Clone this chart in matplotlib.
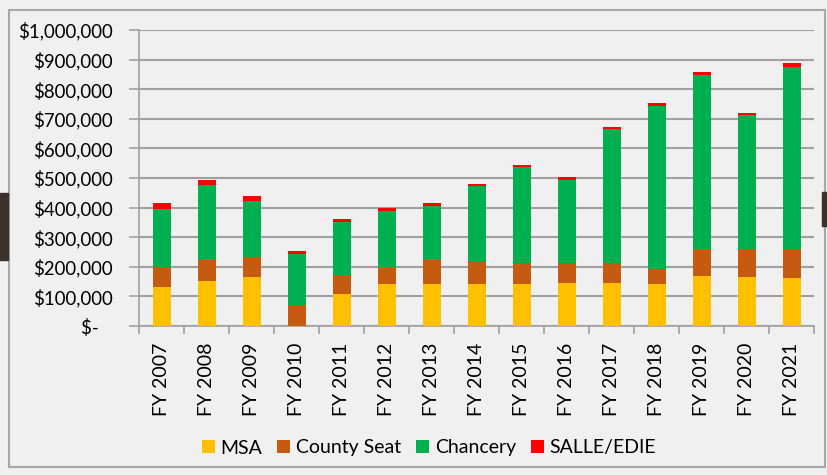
import matplotlib.pyplot as plt
from matplotlib.patches import Rectangle
import numpy as np

# values (dollars)
years = ['FY 2007', 'FY 2008', 'FY 2009', 'FY 2010', 'FY 2011', 'FY 2012', 'FY 2013',
         'FY 2014', 'FY 2015', 'FY 2016', 'FY 2017', 'FY 2018', 'FY 2019', 'FY 2020', 'FY 2021']
msa = [131000, 153000, 166000, 0, 109000, 143000, 143000, 143000, 143000, 144000,
       144000, 141000, 169000, 166000, 162000]
county_seat = [69000, 70000, 68000, 71000, 62000, 57000, 80000, 73000, 69000, 69000,
               69000, 53000, 91000, 94000, 98000]
chancery = [195000, 252000, 187000, 171000, 181000, 190000, 182000, 258000, 324000,
            281000, 451000, 549000, 588000, 452000, 615000]
salle_edie = [19000, 18000, 19000, 12000, 8000, 9000, 9000, 7000, 8000, 9000, 9000,
              9000, 11000, 8000, 12000]

series = [('MSA', msa, '#FFC000'), ('County Seat', county_seat, '#C55A11'),
          ('Chancery', chancery, '#00B050'), ('SALLE/EDIE', salle_edie, '#FF0000')]

plt.rcParams['font.family'] = ['Lato', 'DejaVu Sans']
bg = '#f0f0f0'
fs = 14

fig = plt.figure(figsize=(8.27, 4.75), dpi=100, facecolor=bg)
ax = fig.add_axes([139 / 827, 1 - 326 / 475, 675 / 827, 296 / 475], facecolor=bg)

x = np.arange(len(years))
bottom = np.zeros(len(years))
for name, vals, col in series:
    ax.bar(x, vals, 0.4, bottom=bottom, color=col, label=name, zorder=3)
    bottom += np.array(vals)

ax.set_xlim(-0.5, len(years) - 0.5)
ax.set_ylim(0, 1000000)
yt = np.arange(0, 1000001, 100000)
ax.set_yticks(yt)
ax.set_yticklabels(['$-   '] + ['${:,.0f}'.format(v) for v in yt[1:]], fontsize=13.4)
ax.yaxis.grid(True, color='#a0a0a0', linewidth=1.5, zorder=0)
ax.tick_params(axis='y', length=7, color='#a0a0a0', width=1.2, pad=12)

ax.set_xticks(x)
ax.set_xticklabels(years, rotation=90, fontsize=fs)
ax.set_xticks(np.arange(-0.5, len(years)), minor=True)
ax.tick_params(axis='x', which='major', length=0, pad=12)
ax.tick_params(axis='x', which='minor', length=6, color='#a0a0a0', width=1.2)

for s in ['top', 'right']:
    ax.spines[s].set_visible(False)
for s in ['left', 'bottom']:
    ax.spines[s].set_color('#a0a0a0')
    ax.spines[s].set_linewidth(1.2)

fig.legend(loc='center', bbox_to_anchor=(429 / 827, 1 - 448 / 475), ncol=4,
           frameon=False, fontsize=fs, handlelength=0.68, handleheight=0.68,
           handletextpad=0.3, columnspacing=0.75)

# frame and decorations of the slide
fig.patches.append(Rectangle((9 / 827, 1 - 467 / 475), 816 / 827, 457 / 475,
                             transform=fig.transFigure, fill=False,
                             edgecolor='#a8a8a8', linewidth=1.5))
fig.patches.append(Rectangle((0, 1 - 260 / 475), 8 / 827, 67 / 475,
                             transform=fig.transFigure, color='#3b322c'))
fig.patches.append(Rectangle((822 / 827, 1 - 226 / 475), 5 / 827, 34 / 475,
                             transform=fig.transFigure, color='#3b322c'))

fig.savefig('out.png', dpi=100, facecolor=bg)
